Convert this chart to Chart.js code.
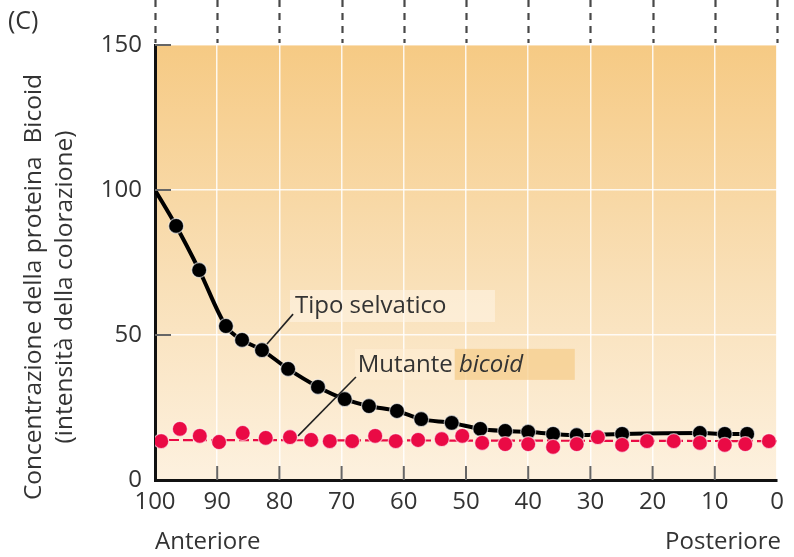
<!DOCTYPE html>
<html>
<head>
<meta charset="utf-8">
<script src="https://cdn.jsdelivr.net/npm/chart.js@4.4.1/dist/chart.umd.min.js"></script>
<style>
  html, body { margin: 0; padding: 0; background: #fff; }
  #wrap { width: 794px; height: 557px; position: relative; }
</style>
</head>
<body>
<div id="wrap"><canvas id="bicoidChart" width="794" height="557"></canvas></div>
<script>
// posizione lungo l'embrione (% lunghezza, 100 = anteriore)
const wildX = [100, 96.6, 92.9, 88.6, 86.0, 82.8, 78.6, 73.8, 69.5, 65.6, 61.1, 57.2, 52.3, 47.7, 43.7, 40.0, 36.0, 32.2, 24.9, 12.4, 8.4, 4.8];
const wildY = [100, 87.6, 72.4, 53.1, 48.3, 44.8, 38.3, 32.1, 27.9, 25.5, 23.8, 21.0, 19.7, 17.6, 16.9, 16.6, 15.9, 15.5, 15.9, 16.2, 15.9, 15.9];

const mutantX = [99.0, 96.0, 92.8, 89.7, 85.9, 82.2, 78.3, 74.9, 71.9, 68.3, 64.6, 61.3, 57.7, 53.9, 50.6, 47.4, 43.7, 40.0, 36.0, 32.2, 28.8, 24.9, 20.9, 16.6, 12.4, 8.4, 5.1, 1.3];
const mutantY = [13.4, 17.6, 15.2, 13.1, 16.2, 14.5, 14.8, 13.8, 13.4, 13.4, 15.2, 13.4, 13.8, 14.1, 15.2, 12.8, 12.4, 12.4, 11.4, 12.4, 14.8, 12.1, 13.4, 13.4, 12.8, 12.1, 12.4, 13.4];

const mutantFitX = [100, 0];
const mutantFitY = [13.8, 13.4];

const xTicks = [100, 90, 80, 70, 60, 50, 40, 30, 20, 10, 0];
const yTicks = [0, 50, 100, 150];

const FONT = "'Open Sans', 'Noto Sans', sans-serif";
const TEXT = "#333";

const toPoints = (xs, ys) => xs.map((x, i) => ({ x, y: ys[i] }));

const decor = {
  id: "decor",
  beforeDraw(chart) {
    const { ctx, chartArea: a } = chart;
    const xs = chart.scales.x;
    ctx.save();
    const g = ctx.createLinearGradient(0, a.top, 0, a.bottom);
    g.addColorStop(0, "#f6ca84");
    g.addColorStop(0.55, "#f9e0b8");
    g.addColorStop(1, "#fdf1df");
    ctx.fillStyle = g;
    ctx.fillRect(a.left, a.top, a.right - a.left, a.bottom - a.top);

    // tratteggi sopra il grafico
    ctx.strokeStyle = "rgba(40,40,40,0.85)";
    ctx.lineWidth = 2.2;
    ctx.setLineDash([7, 6]);
    xTicks.forEach(v => {
      const px = Math.round(xs.getPixelForValue(v)) + 0.5;
      ctx.beginPath();
      ctx.moveTo(px, 0);
      ctx.lineTo(px, a.top - 2);
      ctx.stroke();
    });
    ctx.restore();
  },
  afterDatasetsDraw(chart) {
    const { ctx, chartArea: a } = chart;
    const xs = chart.scales.x, ys = chart.scales.y;
    const P = (x, y) => [xs.getPixelForValue(x), ys.getPixelForValue(y)];
    ctx.save();

    // tacche
    ctx.strokeStyle = "#666";
    ctx.lineWidth = 2;
    yTicks.slice(1).forEach(v => {
      const py = ys.getPixelForValue(v);
      ctx.beginPath();
      ctx.moveTo(a.left, py);
      ctx.lineTo(a.left + 16, py);
      ctx.stroke();
    });
    xTicks.slice(1, -1).forEach(v => {
      const px = xs.getPixelForValue(v);
      ctx.beginPath();
      ctx.moveTo(px, a.bottom);
      ctx.lineTo(px, a.bottom - 14);
      ctx.stroke();
    });

    // etichette
    ctx.font = `24px ${FONT}`;
    ctx.textBaseline = "middle";
    const [tx, ty] = P(77.5, 60);
    ctx.fillStyle = "rgba(255,246,232,0.55)";
    ctx.fillRect(tx - 5, ty - 16, 205, 32);
    const [mx, my] = P(67.4, 39.7);
    ctx.fillStyle = "rgba(255,240,215,0.5)";
    ctx.fillRect(mx - 3, my - 16, 100, 31);
    ctx.fillStyle = "rgba(245,205,140,0.75)";
    ctx.fillRect(mx + 97, my - 16, 120, 31);

    ctx.fillStyle = TEXT;
    ctx.fillText("Tipo selvatico", tx, ty);
    ctx.fillText("Mutante ", mx, my);
    const w = ctx.measureText("Mutante ").width;
    ctx.font = `italic 24px ${FONT}`;
    ctx.fillText("bicoid", mx + w, my);

    ctx.strokeStyle = "#222";
    ctx.lineWidth = 1.6;
    let [x1, y1] = P(82.0, 46.9), [x2, y2] = P(77.8, 57.2);
    ctx.beginPath(); ctx.moveTo(x1, y1); ctx.lineTo(x2, y2); ctx.stroke();
    [x1, y1] = P(77.0, 15.2); [x2, y2] = P(67.7, 35.5);
    ctx.beginPath(); ctx.moveTo(x1, y1); ctx.lineTo(x2, y2); ctx.stroke();

    // testi esterni
    ctx.fillStyle = TEXT;
    ctx.font = `25px ${FONT}`;
    ctx.textAlign = "left";
    ctx.fillText("(C)", 8, 22);
    ctx.font = `24px ${FONT}`;
    ctx.fillText("Anteriore", a.left, 542);
    ctx.textAlign = "right";
    ctx.fillText("Posteriore", a.right + 4, 542);

    ctx.font = `24.5px ${FONT}`;
    ctx.translate(0, 287);
    ctx.rotate(-Math.PI / 2);
    ctx.textAlign = "center";
    ctx.fillText("Concentrazione della proteina  Bicoid", 0, 34);
    ctx.fillText("(intensità della colorazione)", 0, 65);
    ctx.restore();
  }
};

new Chart(document.getElementById("bicoidChart"), {
  type: "scatter",
  data: {
    datasets: [
      {
        label: "Mutante bicoid",
        data: toPoints(mutantX, mutantY),
        showLine: false,
        pointRadius: 7.5,
        pointBackgroundColor: "#ea0a45",
        pointBorderColor: "rgba(255,255,255,0.6)",
        pointBorderWidth: 1.2,
        order: 0,
      },
      {
        label: "fit mutante",
        data: toPoints(mutantFitX, mutantFitY),
        showLine: true,
        borderColor: "#ea0a45",
        borderWidth: 2.2,
        borderDash: [10, 4],
        pointRadius: 0,
        order: 1,
      },
      {
        label: "Tipo selvatico",
        data: toPoints(wildX, wildY),
        showLine: true,
        borderColor: "#000",
        borderWidth: 4,
        cubicInterpolationMode: "monotone",
        pointRadius: ctx => (ctx.dataIndex === 0 ? 0 : 7.5),
        pointBackgroundColor: "#000",
        pointBorderColor: "rgba(255,255,255,0.6)",
        pointBorderWidth: 1.2,
        order: 2,
      },
    ],
  },
  options: {
    responsive: false,
    animation: false,
    layout: { padding: { left: 0, top: 45, right: 17, bottom: 0 } },
    plugins: { legend: { display: false }, tooltip: { enabled: false } },
    scales: {
      x: {
        type: "linear",
        reverse: true,
        min: 0,
        max: 100,
        afterFit(s) { s.height = 77; },
        afterBuildTicks(s) { s.ticks = xTicks.map(v => ({ value: v })); },
        ticks: { color: TEXT, font: { family: FONT, size: 24 }, padding: 8, maxRotation: 0, autoSkip: false },
        grid: { color: "rgba(255,255,255,0.85)", lineWidth: 1.5, drawTicks: false },
        border: { color: "#111", width: 3 },
      },
      y: {
        min: 0,
        max: 150,
        afterFit(s) { s.width = 155; },
        afterBuildTicks(s) { s.ticks = yTicks.map(v => ({ value: v })); },
        ticks: { color: TEXT, font: { family: FONT, size: 24 }, padding: 13 },
        grid: { color: "rgba(255,255,255,0.85)", lineWidth: 1.5, drawTicks: false },
        border: { color: "#111", width: 3 },
      },
    },
  },
  plugins: [decor],
});
</script>
</body>
</html>
